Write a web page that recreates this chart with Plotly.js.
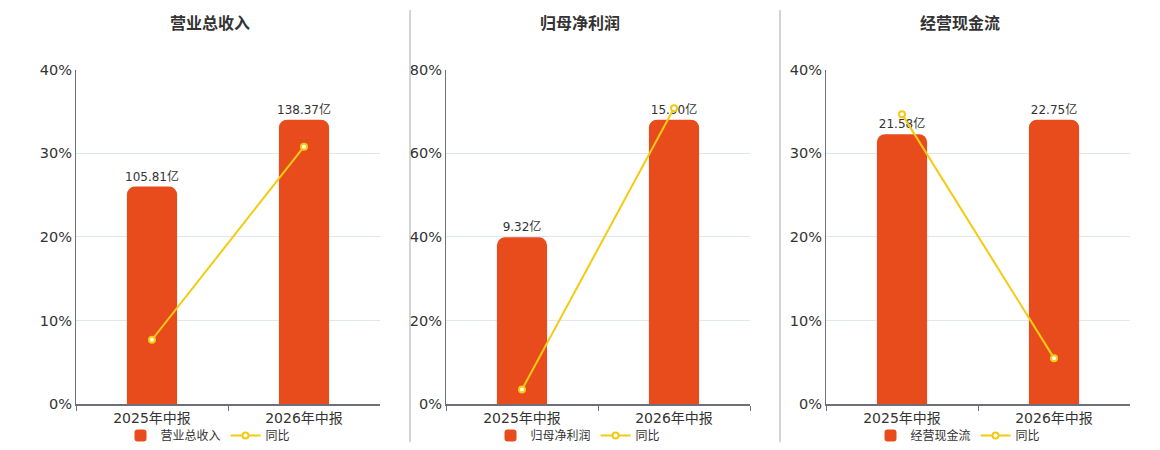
<!DOCTYPE html>
<html>
<head>
<meta charset="utf-8">
<script src="https://cdn.plot.ly/plotly-3.0.1.min.js"></script>
<style>
  html, body { margin: 0; padding: 0; background: #fff; }
  #chart { width: 1160px; height: 450px; }
</style>
</head>
<body>
<div id="chart"></div>
<script>
// 报告期
const periods = ["2025年中报", "2026年中报"];

// 各面板标题
const titles = ["营业总收入", "归母净利润", "经营现金流"];

// 金额（亿）
const revenue = [105.81, 138.37];
const netProfit = [9.32, 15.90];
const cashFlow = [21.58, 22.75];

// 同比（%）
const revenueYoy = [7.7, 30.8];
const netProfitYoy = [3.5, 70.8];
const cashFlowYoy = [34.7, 5.5];

// 左轴最大值
const yoyMax = [40, 80, 40];

const amounts = [revenue, netProfit, cashFlow];
const yoys = [revenueYoy, netProfitYoy, cashFlowYoy];

const barColor = "#e84c1c";
const lineColor = "#f2cb12";
const font = "DejaVu Sans, Noto Sans CJK SC, sans-serif";

// 三个面板的水平位置（像素）
const panelX = [[76, 380], [446, 750], [826, 1130]];
const W = 1160, H = 450;

const data = [];
const layout = {
  width: W, height: H,
  margin: { l: 0, r: 0, t: 0, b: 0 },
  paper_bgcolor: "#fff",
  plot_bgcolor: "#fff",
  font: { family: font, color: "#333", size: 12 },
  bargap: 0.67,
  annotations: [],
  shapes: []
};

for (let i = 0; i < 3; i++) {
  const xa = i === 0 ? "x" : "x" + (i + 1);
  const yBar = i === 0 ? "y" : "y" + (i * 2 + 1);
  const yLine = "y" + (i * 2 + 2);
  const legendId = i === 0 ? "legend" : "legend" + (i + 1);
  const dom = [panelX[i][0] / W, panelX[i][1] / W];
  const yDom = [45 / H, 380 / H];
  const maxAmt = Math.max(...amounts[i]);
  const centerPx = (panelX[i][0] + panelX[i][1]) / 2;

  data.push({
    type: "bar",
    name: titles[i],
    x: periods,
    y: amounts[i],
    xaxis: xa, yaxis: yBar,
    text: amounts[i].map(v => v.toFixed(2) + "亿"),
    textposition: "outside",
    constraintext: "none",
    cliponaxis: false,
    textfont: { size: 12, color: "#333" },
    marker: { color: barColor, cornerradius: 8 },
    legend: legendId,
    hoverinfo: "skip"
  });
  data.push({
    type: "scatter",
    mode: "lines+markers",
    name: "同比",
    x: periods,
    y: yoys[i],
    xaxis: xa, yaxis: yLine,
    line: { color: lineColor, width: 2 },
    marker: { symbol: "circle", size: 6, color: "#fff", line: { color: lineColor, width: 2 } },
    legend: legendId,
    hoverinfo: "skip"
  });

  const xKey = i === 0 ? "xaxis" : "xaxis" + (i + 1);
  const yBarKey = i === 0 ? "yaxis" : "yaxis" + (i * 2 + 1);
  const yLineKey = "yaxis" + (i * 2 + 2);

  layout[xKey] = {
    domain: dom,
    anchor: yBar,
    type: "category",
    showline: true, linecolor: "#6e7079", linewidth: 2,
    ticks: "outside", tickson: "boundaries", ticklen: 5, tickcolor: "#6e7079",
    tickfont: { size: 14, color: "#333" },
    showgrid: false, zeroline: false,
    fixedrange: true
  };
  layout[yBarKey] = {
    domain: yDom,
    anchor: xa,
    range: [0, maxAmt / 0.851],
    visible: false,
    fixedrange: true
  };
  layout[yLineKey] = {
    overlaying: yBar,
    anchor: xa,
    side: "left",
    range: [0, yoyMax[i]],
    dtick: yoyMax[i] / 4,
    ticksuffix: "%",
    showline: true, linecolor: "#6e7079", linewidth: 1,
    ticks: "",
    tickfont: { size: 14.5, color: "#333" },
    showgrid: true, gridcolor: "#e0e6f1", gridwidth: 1,
    zeroline: false,
    fixedrange: true
  };

  layout[legendId] = {
    orientation: "h",
    x: (centerPx - 20) / W, xanchor: "center",
    y: 14 / H, yanchor: "middle",
    font: { size: 12, color: "#333" },
    bgcolor: "rgba(0,0,0,0)",
    itemwidth: 30,
    tracegroupgap: 0
  };

  layout.annotations.push({
    text: "<b>" + titles[i] + "</b>",
    xref: "paper", yref: "paper",
    x: (centerPx - 18) / W, y: (H - 22) / H,
    xanchor: "center", yanchor: "middle",
    showarrow: false,
    font: { size: 16, color: "#333", family: "Noto Sans CJK SC, sans-serif" }
  });
}

// 面板分隔线
[410, 780].forEach(px => {
  layout.shapes.push({
    type: "line", xref: "paper", yref: "paper",
    x0: px / W, x1: px / W, y0: (H - 443) / H, y1: (H - 10) / H,
    line: { color: "#aaa", width: 1 }
  });
});

Plotly.newPlot("chart", data, layout, { displayModeBar: false, staticPlot: true });
</script>
</body>
</html>
